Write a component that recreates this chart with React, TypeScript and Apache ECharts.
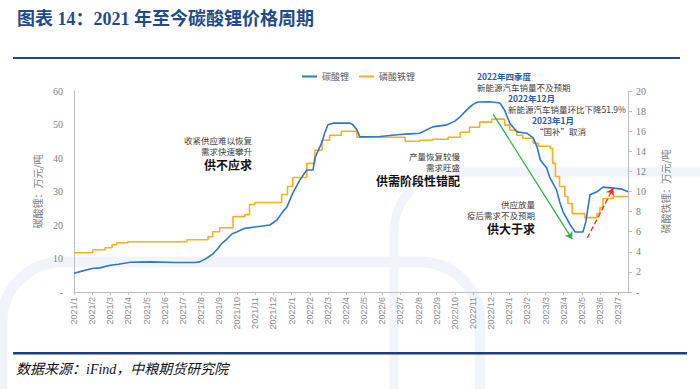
import React, { useEffect, useRef } from "react";
import * as echarts from "echarts";

const carbonateDates = [
  "2021-01-01", "2021-01-16", "2021-02-01", "2021-02-13", "2021-03-01", "2021-03-15", "2021-04-04",
  "2021-05-07", "2021-06-19", "2021-07-22", "2021-07-30", "2021-08-10", "2021-08-21", "2021-08-30",
  "2021-09-06", "2021-09-14", "2021-09-22", "2021-10-01", "2021-10-14", "2021-10-31", "2021-11-25",
  "2021-12-07", "2021-12-17", "2021-12-24", "2022-01-03", "2022-01-15", "2022-01-27", "2022-02-06",
  "2022-02-09", "2022-02-20", "2022-02-24", "2022-03-01", "2022-03-10", "2022-04-07", "2022-04-12",
  "2022-04-19", "2022-04-24", "2022-05-28", "2022-06-30", "2022-07-17", "2022-08-03", "2022-08-25",
  "2022-09-18", "2022-10-01", "2022-10-10", "2022-10-21", "2022-11-01", "2022-11-09", "2022-11-29",
  "2022-12-16", "2022-12-24", "2023-01-02", "2023-01-14", "2023-01-31", "2023-02-10", "2023-02-16",
  "2023-02-21", "2023-03-03", "2023-03-08", "2023-03-20", "2023-03-25", "2023-03-31", "2023-04-12",
  "2023-04-20", "2023-05-03", "2023-05-08", "2023-05-11", "2023-05-15", "2023-05-27", "2023-06-06",
  "2023-06-23", "2023-07-08", "2023-07-18",
];
const carbonatePrices = [
  5.6, 6.3, 7.0, 7.2, 8.0, 8.3, 8.9,
  9.0, 8.8, 8.8, 9.0, 10.0, 11.3, 13.0,
  14.6, 15.8, 17.3, 18.0, 19.0, 19.4, 20.0,
  21.5, 24.0, 25.4, 29.5, 33.4, 36.4, 36.4,
  40.0, 44.8, 47.4, 49.9, 50.4, 50.4, 50.0,
  48.4, 46.3, 46.4, 47.0, 47.2, 47.4, 49.3,
  49.9, 51.0, 52.3, 54.3, 56.0, 56.7, 56.8,
  56.4, 54.3, 50.4, 47.8, 47.4, 46.0, 43.3,
  39.4, 37.0, 34.3, 30.4, 27.0, 23.9, 20.0,
  17.9, 17.9, 21.0, 24.5, 29.0, 29.9, 31.3,
  31.0, 30.7, 29.9,
];

const lfpDates = [
  "2021-01-01", "2021-02-02", "2021-02-21", "2021-03-04", "2021-03-12", "2021-03-31", "2021-07-08",
  "2021-08-13", "2021-08-21", "2021-09-02", "2021-09-24", "2021-10-14", "2021-10-22", "2021-10-31",
  "2021-12-15", "2021-12-25", "2022-01-03", "2022-01-27", "2022-02-09", "2022-02-20", "2022-03-04",
  "2022-03-24", "2022-04-19", "2022-07-09", "2022-08-03", "2022-08-25", "2022-09-20", "2022-10-10",
  "2022-10-26", "2022-11-12", "2022-12-02", "2022-12-24", "2023-01-02", "2023-01-14", "2023-01-24",
  "2023-02-10", "2023-02-18", "2023-03-09", "2023-03-13", "2023-03-18", "2023-03-25", "2023-04-03",
  "2023-04-08", "2023-04-15", "2023-05-06", "2023-05-27", "2023-06-01", "2023-06-06", "2023-06-23",
  "2023-07-18",
];
const lfpPrices = [
  3.9, 4.2, 4.4, 4.7, 4.9, 5.0, 5.2,
  5.5, 6.0, 6.4, 7.5, 7.7, 8.7, 8.9,
  9.7, 10.5, 11.4, 12.8, 14.1, 15.1, 15.6,
  16.0, 15.4, 15.0, 15.1, 15.2, 15.4, 15.9,
  16.4, 16.9, 17.2, 16.6, 16.1, 15.6, 15.3,
  14.8, 14.5, 14.3, 12.8, 11.5, 10.5, 9.5,
  8.8, 7.8, 7.4, 7.8, 8.4, 9.3, 9.5,
  9.5,
];

const seriesNames = ["碳酸锂", "磷酸铁锂"];
const leftAxisName = "碳酸锂：万元/吨";
const rightAxisName = "磷酸铁锂：万元/吨";
const titleText = "图表 14：2021 年至今碳酸锂价格周期";
const sourceText = "数据来源：iFind，中粮期货研究院";

// Arrow annotations in data units (month index, 碳酸锂 price)
const downArrow = [[23.11, 53.1], [27.47, 15.8]];
const upArrow = [[28.3, 16.1], [29.73, 31.0]];

const eventNotes = [
  { title: "2022年四季度", body: "新能源汽车销量不及预期", x: 477, y: 76, dx: 0 },
  { title: "2022年12月", body: "新能源汽车销量环比下降51.9%", x: 508, y: 98, dx: 0 },
  { title: "2023年1月", body: "“国补”取消", x: 532, y: 119.5, dx: 3 },
];
const phaseNotes = [
  { lines: ["收紧供应难以恢复", "需求快速攀升"], head: "供不应求", x: 252, y: 139.5 },
  { lines: ["产量恢复较慢", "需求旺盛"], head: "供需阶段性错配", x: 460, y: 156 },
  { lines: ["供应放量", "疫后需求不及预期"], head: "供大于求", x: 535, y: 204 },
];

function monthIndex(s: string): number {
  const [y, m, d] = s.split("-").map(Number);
  const dim = new Date(y, m, 0).getDate();
  return (y - 2021) * 12 + (m - 1) + (d - 1) / dim;
}

const CJK = '"Noto Sans CJK SC", sans-serif';
const SERIF = '"Liberation Serif", "Noto Sans CJK SC", serif';

function txt(x: number, y: number, text: string, font: string, fill: string, align: string) {
  return {
    type: "text", x, y,
    style: { text, font, fill, align, verticalAlign: "middle", textAlign: align, textVerticalAlign: "middle", lineHeight: 9 },
  };
}

export default function App() {
  const ref = useRef<HTMLDivElement>(null);
  useEffect(() => {
    if (!ref.current) return;
    const chart = echarts.init(ref.current, undefined, { renderer: "svg" });
    const carbonate = carbonateDates.map((d, i) => [monthIndex(d), carbonatePrices[i]]);
    const lfp = lfpDates.map((d, i) => [monthIndex(d), lfpPrices[i]]);
    const xMax = Math.max(monthIndex(carbonateDates[carbonateDates.length - 1]), monthIndex(lfpDates[lfpDates.length - 1]));

    const graphics: any[] = [
      // faint watermark shapes
      { type: "rect", z: -10, silent: true, shape: { x: 2, y: 262, width: 478, height: 320, r: 60 }, style: { fill: "none", stroke: "#F1F5FB", lineWidth: 11 } },
      { type: "rect", z: -10, silent: true, shape: { x: 394, y: 172, width: 420, height: 320, r: 60 }, style: { fill: "none", stroke: "#F1F5FB", lineWidth: 9 } },
      // title
      { type: "text", left: 17, top: 10, style: { text: titleText, font: `bold 18px ${SERIF}`, fill: "#1F4A8C" } },
      { type: "rect", shape: { x: 13, y: 57, width: 667, height: 2 }, style: { fill: "#1F4A8C" } },
      { type: "rect", shape: { x: 13, y: 352, width: 674, height: 2.5 }, style: { fill: "#1F3F78" } },
      { type: "text", left: 16, top: 362, style: { text: sourceText, font: `italic 14px ${SERIF}`, fill: "#111" } },
    ];
    eventNotes.forEach((n) => {
      graphics.push(txt(n.x, n.y, n.title, `bold 8.5px ${CJK}`, "#2A5CA8", "left"));
      graphics.push(txt(n.x + n.dx, n.y + 11, n.body, `8.5px ${CJK}`, "#404040", "left"));
    });
    phaseNotes.forEach((n) => {
      n.lines.forEach((l, i) => {
        graphics.push(txt(n.x, n.y + i * 11, l, `8.5px ${CJK}`, "#404040", "right"));
      });
      const head = txt(n.x, n.y + (n.lines.length - 1) * 11 + 13.5, n.head, `bold 12px ${CJK}`, "#111", "right");
      (head.style as any).lineHeight = 12;
      graphics.push(head);
    });

    chart.setOption({
      animation: false,
      backgroundColor: "#fff",
      legend: {
        left: 297, top: 67, icon: "rect", itemWidth: 15, itemHeight: 2, itemGap: 10,
        textStyle: { fontSize: 9, color: "#595959", fontFamily: CJK },
        data: seriesNames,
      },
      grid: { left: 74, right: 72, top: 91, bottom: 97, containLabel: false },
      xAxis: {
        type: "value", min: 0, max: xMax, interval: 1,
        axisLine: { show: true, lineStyle: { color: "#BFBFBF" } },
        axisTick: { show: true, length: 3, lineStyle: { color: "#BFBFBF" } },
        splitLine: { show: false },
        axisLabel: {
          rotate: 90, fontSize: 9, color: "#8C8C8C", fontFamily: "Liberation Sans, Arial, sans-serif", margin: 5,
          showMaxLabel: false,
          formatter: (v: number) => {
            if (Math.abs(v - Math.round(v)) > 1e-6) return "";
            const r = Math.round(v);
            return `${2021 + Math.floor(r / 12)}/${(r % 12) + 1}`;
          },
        },
      },
      yAxis: [
        {
          type: "value", min: 0, max: 60, interval: 10, position: "left",
          name: leftAxisName, nameLocation: "middle", nameRotate: 90, nameGap: 32,
          nameTextStyle: { fontSize: 10, color: "#7F7F7F", fontFamily: CJK },
          axisLine: { show: true, lineStyle: { color: "#BFBFBF" } },
          axisTick: { show: false },
          splitLine: { show: false },
          axisLabel: { fontSize: 10, color: "#7F7F7F", fontFamily: SERIF, margin: 11, formatter: (v: number) => (v === 0 ? "-" : String(v)) },
        },
        {
          type: "value", min: 0, max: 20, interval: 2, position: "right",
          name: rightAxisName, nameLocation: "middle", nameRotate: 90, nameGap: 32,
          nameTextStyle: { fontSize: 10, color: "#7F7F7F", fontFamily: CJK },
          axisLine: { show: true, lineStyle: { color: "#BFBFBF" } },
          axisTick: { show: true, length: 4, lineStyle: { color: "#BFBFBF" } },
          splitLine: { show: false },
          axisLabel: { fontSize: 10, color: "#7F7F7F", fontFamily: SERIF, margin: 8, formatter: (v: number) => (v === 0 ? "-" : String(v)) },
        },
      ],
      series: [
        {
          name: seriesNames[0], type: "line", yAxisIndex: 0, data: carbonate, showSymbol: false,
          lineStyle: { color: "#2E78C8", width: 1.6 }, itemStyle: { color: "#2E78C8" }, z: 3,
          markLine: {
            silent: true, symbol: ["none", "arrow"], symbolSize: 7,
            label: { show: false },
            data: [
              [
                { coord: downArrow[0], lineStyle: { color: "#2DB34A", type: "solid", width: 1.3 }, itemStyle: { color: "#2DB34A" } },
                { coord: downArrow[1], lineStyle: { color: "#2DB34A", type: "solid", width: 1.3 }, itemStyle: { color: "#2DB34A" } },
              ],
              [
                { coord: upArrow[0], lineStyle: { color: "#FF2525", type: "dashed", width: 1.3 }, itemStyle: { color: "#FF2525" } },
                { coord: upArrow[1], lineStyle: { color: "#FF2525", type: "dashed", width: 1.3 }, itemStyle: { color: "#FF2525" } },
              ],
            ],
          },
        },
        {
          name: seriesNames[1], type: "line", yAxisIndex: 1, data: lfp, showSymbol: false, step: "end",
          lineStyle: { color: "#FCAE1E", width: 1.6 }, itemStyle: { color: "#FCAE1E" }, z: 2,
        },
      ],
      graphic: graphics,
    });
    return () => chart.dispose();
  }, []);
  return <div ref={ref} style={{ position: "fixed", left: 0, top: 0, width: 700, height: 389 }} />;
}
